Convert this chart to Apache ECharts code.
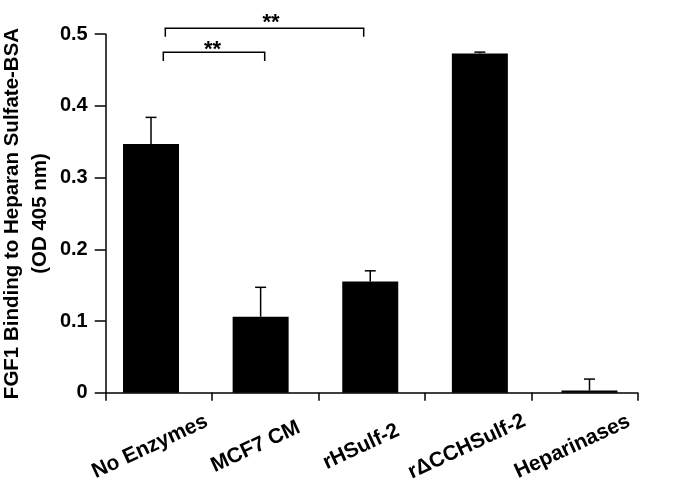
<!DOCTYPE html>
<html>
<head>
<meta charset="utf-8">
<script src="https://cdn.jsdelivr.net/npm/echarts@6/dist/echarts.min.js"></script>
<style>html,body{margin:0;padding:0;background:#fff}#c{width:685px;height:483px}</style>
</head>
<body>
<div id="c"></div>
<script>
const categories = ['No Enzymes', 'MCF7 CM', 'rHSulf-2', 'r\u0394CCHSulf-2', 'Heparinases'];
const means = [0.347, 0.106, 0.155, 0.473, 0.003];
const upperErr = [0.384, 0.147, 0.170, 0.475, 0.019];
const yMin = 0, yMax = 0.5, yStep = 0.1;
const yTitle = 'FGF1 Binding to Heparan Sulfate-BSA\n(OD 405 nm)';

const FONT = '"Liberation Sans", Arial, Helvetica, sans-serif';
const chart = echarts.init(document.getElementById('c'), null, {renderer: 'canvas'});
const gridTop = 34.2, gridBottom = 90.3;
const axisLineStyle = {color: '#000', width: 1.5};

chart.setOption({
  animation: false,
  backgroundColor: '#fff',
  grid: [
    {left: 105.7, right: 47.3, top: gridTop, bottom: gridBottom, containLabel: false, outerBoundsMode: 'none'},
    {left: 96.2, right: 40.7, top: gridTop, bottom: gridBottom, containLabel: false, outerBoundsMode: 'none'},
    {left: 97.2, right: 59.8, top: gridTop, bottom: gridBottom, containLabel: false, outerBoundsMode: 'none'}
  ],
  xAxis: [
    {gridIndex: 0, type: 'category', data: categories, boundaryGap: true,
     axisLine: {show: true, lineStyle: axisLineStyle},
     axisTick: {show: true, length: 8, lineStyle: axisLineStyle},
     axisLabel: {show: false}, splitLine: {show: false}},
    {gridIndex: 1, type: 'category', data: categories, show: false},
    {gridIndex: 2, type: 'category', data: categories,
     axisLine: {show: false}, axisTick: {show: false}, splitLine: {show: false},
     axisLabel: {show: true, interval: 0, rotate: 25, align: 'center', verticalAlign: 'middle',
       margin: 54, color: '#000', fontFamily: FONT, fontWeight: 'bold', fontSize: 21}}
  ],
  yAxis: [
    {gridIndex: 0, type: 'value', min: yMin, max: yMax, interval: yStep,
     axisLine: {show: true, lineStyle: axisLineStyle},
     axisTick: {show: true, length: 11, lineStyle: axisLineStyle},
     splitLine: {show: false},
     axisLabel: {color: '#000', fontFamily: FONT, fontWeight: 'bold', fontSize: 20, margin: 18}},
    {gridIndex: 1, type: 'value', min: yMin, max: yMax, interval: yStep, show: false},
    {gridIndex: 2, type: 'value', min: yMin, max: yMax, interval: yStep, show: false}
  ],
  series: [
    {type: 'bar', xAxisIndex: 1, yAxisIndex: 1, data: means, barWidth: 56,
     itemStyle: {color: '#000'}, z: 2},
    {type: 'custom', xAxisIndex: 1, yAxisIndex: 1, z: 3,
     data: categories.map((c, i) => [i, means[i], upperErr[i]]),
     renderItem: function (params, api) {
       const p0 = api.coord([api.value(0), api.value(1)]);
       const p1 = api.coord([api.value(0), api.value(2)]);
       const st = {stroke: '#000', lineWidth: 1.5};
       return {type: 'group', children: [
         {type: 'line', shape: {x1: p0[0], y1: p0[1], x2: p0[0], y2: p1[1]}, style: st},
         {type: 'line', shape: {x1: p0[0] - 5.5, y1: p1[1], x2: p0[0] + 5.5, y2: p1[1]}, style: st}
       ]};
     }}
  ],
  graphic: [
    {type: 'text', x: 26.5, y: 213.5, rotation: Math.PI / 2,
     style: {text: yTitle, fill: '#000', font: 'bold 20.5px ' + FONT, lineHeight: 27.5,
       textAlign: 'center', textVerticalAlign: 'middle', align: 'center', verticalAlign: 'middle'}},
    {type: 'polyline', shape: {points: [[163.3, 61], [163.3, 52.3], [264.7, 52.3], [264.7, 61]]},
     style: {stroke: '#000', lineWidth: 1.5, fill: null}},
    {type: 'polyline', shape: {points: [[165.3, 36.7], [165.3, 28.3], [363.7, 28.3], [363.7, 36.7]]},
     style: {stroke: '#000', lineWidth: 1.5, fill: null}},
    {type: 'text', x: 212.5, y: 49.5, style: {text: '**', fill: '#000', font: 'bold 22px ' + FONT, textAlign: 'center', textVerticalAlign: 'middle'}},
    {type: 'text', x: 271, y: 23, style: {text: '**', fill: '#000', font: 'bold 22px ' + FONT, textAlign: 'center', textVerticalAlign: 'middle'}}
  ]
});
</script>
</body>
</html>
